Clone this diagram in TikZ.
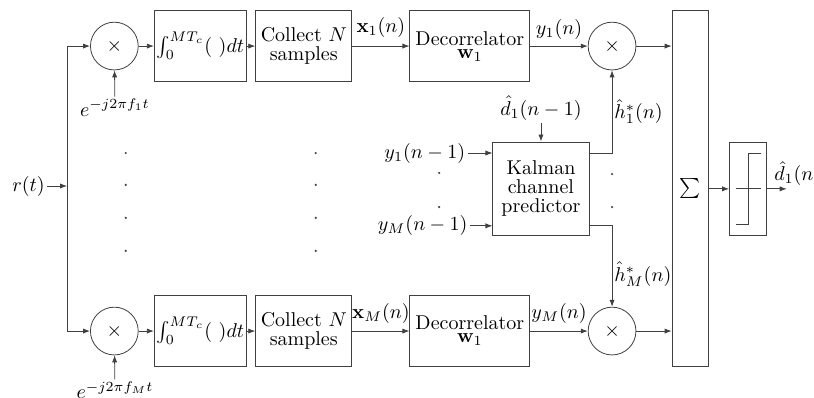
\documentclass[tikz,border=0pt]{standalone}
\usepackage{amsmath,amssymb}
\usepackage{tikz}
\usetikzlibrary{arrows.meta,positioning,calc}
\definecolor{LineGray}{HTML}{404040}

\begin{document}
\begin{tikzpicture}[
  blk/.style={draw=LineGray,minimum height=1.25cm,inner sep=1pt,align=center,font=\fontsize{10}{9.5}\selectfont},
  mixer/.style={draw=LineGray,circle,minimum size=0.84cm,inner sep=0pt},
  lbl/.style={inner sep=1pt},
  arrow/.style={-{Latex[length=3.5pt,width=2.6pt]},draw=LineGray}
]
\useasboundingbox (0,0) rectangle (14.31,-6.99);
% input
\node[lbl] (rt) at (0.50,-3.27) {$r(t)$};
\coordinate (split) at (1.18,-3.27);
% branch 1
\node[mixer] (mix1) at (2.01,-0.81) {$\times$};
\node[lbl,anchor=north] (exp1) at (2.02,-1.70) {$e^{-j2\pi f_1 t}$};
\node[blk,minimum width=1.60cm] (int1) at (3.52,-0.81) {$\int_0^{MT_c}(\ )dt$};
\node[blk,minimum width=1.69cm] (col1) at (5.34,-0.81) {Collect $N$\\samples};
\node[blk,minimum width=2.11cm] (dec1) at (8.26,-0.81) {Decorrelator\\[-3pt]$\mathbf{w}_1$};
\node[mixer] (prod1) at (10.76,-0.81) {$\times$};
% branch M
\node[mixer] (mixM) at (2.01,-5.82) {$\times$};
\node[lbl,anchor=north] (expM) at (2.02,-6.67) {$e^{-j2\pi f_M t}$};
\node[blk,minimum width=1.60cm] (intM) at (3.52,-5.82) {$\int_0^{MT_c}(\ )dt$};
\node[blk,minimum width=1.69cm] (colM) at (5.34,-5.82) {Collect $N$\\samples};
\node[blk,minimum width=2.11cm] (decM) at (8.26,-5.82) {Decorrelator\\[-3pt]$\mathbf{w}_1$};
\node[mixer] (prodM) at (10.76,-5.82) {$\times$};
% channel prediction
\node[blk,minimum width=1.69cm,minimum height=1.65cm] (kal) at (9.51,-3.32) {Kalman\\channel\\predictor};
\node[lbl] (d1prev) at (9.51,-1.90) {$\hat{d}_1(n-1)$};
\node[lbl,anchor=east] (y1prev) at (8.22,-2.69) {$y_1(n-1)$};
\node[lbl,anchor=east] (yMprev) at (8.26,-3.97) {$y_M(n-1)$};
% combining and decision
\node[draw=LineGray,minimum width=0.63cm,minimum height=6.26cm,inner sep=0pt] (sum) at (12.13,-3.32) {$\sum$};
\node[draw=LineGray,minimum width=0.65cm,minimum height=1.65cm,inner sep=0pt] (slicer) at (13.15,-3.32) {};
\coordinate (dend) at (13.83,-3.32);
\node[lbl,anchor=south west] (dout) at (13.57,-3.30) {$\hat{d}_1(n)$};

\draw[arrow] (rt) -- (split);
\draw[arrow] (split) |- (mix1);
\draw[arrow] (split) |- (mixM);
\draw[arrow] (exp1) -- (mix1);
\draw[arrow] (expM) -- (mixM);
\draw[arrow] (mix1) -- (int1);
\draw[arrow] (int1) -- (col1);
\draw[arrow] (col1) -- node[above,yshift=1pt] {$\mathbf{x}_1(n)$} (dec1);
\draw[arrow] (dec1) -- node[above] {$y_1(n)$} (prod1);
\draw[arrow] (mixM) -- (intM);
\draw[arrow] (intM) -- (colM);
\draw[arrow] (colM) -- node[above] {$\mathbf{x}_M(n)$} (decM);
\draw[arrow] (decM) -- node[above] {$y_M(n)$} (prodM);
\draw[arrow] (d1prev) -- (kal);
\draw[arrow] (y1prev) -- (y1prev -| kal.west);
\draw[arrow] (yMprev) -- (yMprev -| kal.west);
\draw[arrow] (kal.east |- y1prev) -| node[pos=0.75,right,lbl] {$\hat{h}_1^*(n)$} (prod1);
\draw[arrow] (kal.east |- yMprev) -| node[pos=0.8,right,lbl] {$\hat{h}_M^*(n)$} (prodM);
\draw[arrow] (prod1) -- (prod1 -| sum.west);
\draw[arrow] (prodM) -- (prodM -| sum.west);
\draw[arrow] (sum) -- (slicer);
\draw[arrow] (slicer) -- (dend);
% hard decision curve
\draw[LineGray] (12.94,-3.32) -- (13.37,-3.32);
\draw[LineGray] (12.94,-3.94) -- (13.15,-3.94) -- (13.15,-2.69) -- (13.37,-2.69);
% continuation dots
\fill[LineGray] (2.21,-2.69) circle (0.6pt) (2.21,-3.25) circle (0.6pt) (2.21,-3.83) circle (0.6pt) (2.21,-4.41) circle (0.6pt)
  (5.55,-2.69) circle (0.6pt) (5.55,-3.25) circle (0.6pt) (5.55,-3.83) circle (0.6pt) (5.55,-4.41) circle (0.6pt)
  (7.72,-3.04) circle (0.6pt) (7.72,-3.64) circle (0.6pt)
  (10.76,-3.06) circle (0.6pt) (10.76,-3.64) circle (0.6pt);
\end{tikzpicture}
\end{document}
